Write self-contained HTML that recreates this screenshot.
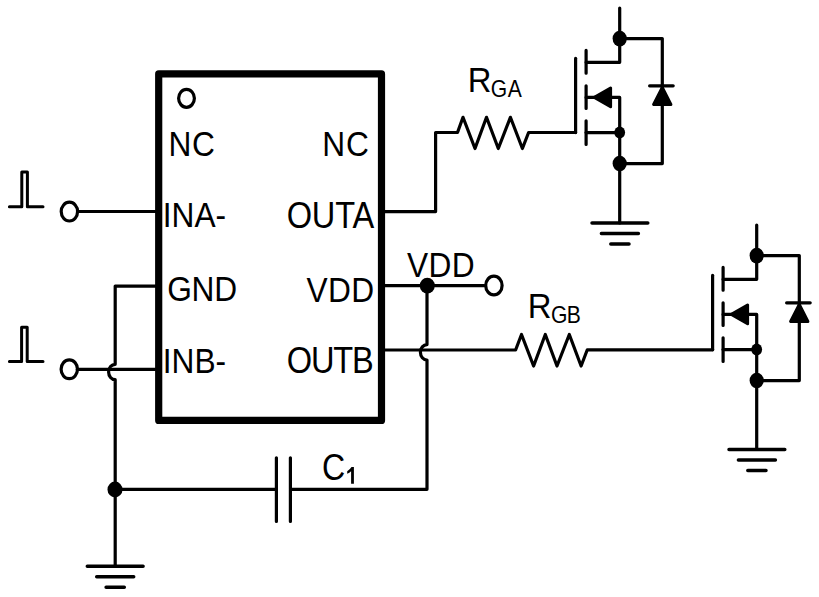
<!DOCTYPE html>
<html><head><meta charset="utf-8">
<style>
html,body{margin:0;padding:0;background:#fff;}
svg{display:block;}
text{font-family:"Liberation Sans",sans-serif;fill:#000;}
</style></head><body>
<svg width="819" height="597" viewBox="0 0 819 597">
<g fill="none" stroke="#000" stroke-width="3.2" stroke-linecap="round" stroke-linejoin="round">
<rect x="158.7" y="73.9" width="222.8" height="346.5" stroke-width="7.2"/>
<ellipse cx="186.5" cy="98.3" rx="7.9" ry="9.0"/>
<path d="M9.4 206.7H21.8V172H27.4V206.7H43" stroke-width="3"/>
<path d="M9.4 361.6H21.6V327.2H27.2V361.6H43" stroke-width="3"/>
<ellipse cx="69.4" cy="211.6" rx="8.2" ry="9.4"/>
<path d="M77.6 211.5H158"/>
<ellipse cx="69.3" cy="369.3" rx="8.2" ry="9.4"/>
<path d="M77.4 369.3H158"/>
<path d="M158 286.1H115.2V364.3A6.6 7.7 0 0 0 115.2 379.7V566.3"/>
<path d="M87.3 566.3H143.1M96.7 576.8H133.7M106.1 587.3H124.3" stroke-width="3.5"/>
<path d="M115 489.3H276.4M276.4 457.8V521.4M290.4 457.8V521.4M290.4 489.3H427V360A6.6 7.7 0 0 1 427 344.6V285.5"/>
<path d="M381 285.7H484.3"/>
<ellipse cx="493.9" cy="285.5" rx="8.2" ry="9.4"/>
<path d="M381 350H515.6L521.5 334.5L533.6 366L545.3 334.5L557 366L569.3 334.5L581.1 366L587.3 349.8H712.7"/>
<path d="M381 211.6H435.6V132.5H457.5L463 117.3L475 148.5L486.5 117.3L498.3 148.5L510.4 117.3L522.4 148.5L528.6 132.5H575.6"/>
<path d="M575.6 132.6V58.3"/>
<path d="M586.1 50.4V73.2M586.1 85.8V108.4M586.1 120.8V144.4"/>
<path d="M586.1 62.3H619.7V8.0"/>
<path d="M586.1 97.4H619.7V223.0"/>
<path d="M586.1 132.6H619.7"/>
<path d="M619.7 38.6H662.3V163.6H619.7"/>
<path d="M649.6 85.8H673.2"/>
<path d="M592.0 223.0H647.8M601.4 233.5H638.4M610.8 244.0H629.0" stroke-width="3.5"/>
<g fill="#000" stroke="none">
<ellipse cx="619.7" cy="38.6" rx="7.1" ry="7.9"/>
<ellipse cx="619.7" cy="132.6" rx="5.4" ry="6"/>
<ellipse cx="619.7" cy="163.5" rx="7.1" ry="7.8"/>
</g>
<path d="M594.4 97.4L610.6 88.0V106.8Z" fill="#000" stroke-width="3"/>
<path d="M662.3 87.5L653.6 104.5H670.9Z" fill="#000" stroke-width="3"/>
<path d="M712.6 349.6V275.3"/>
<path d="M723.1 267.4V290.2M723.1 302.8V325.4M723.1 337.8V361.4"/>
<path d="M723.1 279.3H756.7V225.0"/>
<path d="M723.1 314.4H756.7V449.5"/>
<path d="M723.1 349.6H756.7"/>
<path d="M756.7 255.6H799.3V380.6H756.7"/>
<path d="M786.6 302.8H810.2"/>
<path d="M729.0 449.5H784.8M738.4 460.0H775.4M747.8 470.5H766.0" stroke-width="3.5"/>
<g fill="#000" stroke="none">
<ellipse cx="756.7" cy="255.6" rx="7.1" ry="7.9"/>
<ellipse cx="756.7" cy="349.6" rx="5.4" ry="6"/>
<ellipse cx="756.7" cy="380.5" rx="7.1" ry="7.8"/>
</g>
<path d="M731.4 314.4L747.6 305.0V323.8Z" fill="#000" stroke-width="3"/>
<path d="M799.3 304.5L790.6 321.5H807.9Z" fill="#000" stroke-width="3"/>
</g>
<path d="M353.9 467V483.7H351.1V471.2Q349.4 472.7 347.2 473.7V471.2Q349.9 469.6 351.5 467Z" fill="#000"/>
<g fill="#000">
<ellipse cx="115" cy="489.5" rx="7.5" ry="7.9"/>
<ellipse cx="427.3" cy="285.7" rx="7.5" ry="7.9"/>
</g>
<text transform="translate(168.45,155.66) scale(0.8900,1)" font-size="35.60" letter-spacing="0.86">NC</text>
<text transform="translate(322.27,155.92) scale(0.8900,1)" font-size="35.60" letter-spacing="1.09">NC</text>
<text transform="translate(162.79,226.58) scale(0.8900,1)" font-size="35.60" letter-spacing="-0.02">INA-</text>
<text transform="translate(286.70,228.08) scale(0.8900,1)" font-size="36.60" letter-spacing="-0.22">OUTA</text>
<text transform="translate(167.22,301.34) scale(0.8900,1)" font-size="35.60" letter-spacing="-0.27">GND</text>
<text transform="translate(306.60,301.58) scale(0.8900,1)" font-size="35.60" letter-spacing="0.43">VDD</text>
<text transform="translate(162.79,372.58) scale(0.8900,1)" font-size="35.60" letter-spacing="-0.02">INB-</text>
<text transform="translate(286.70,373.08) scale(0.8900,1)" font-size="36.60" letter-spacing="-1.26">OUTB</text>
<text transform="translate(406.97,276.58) scale(0.8900,1)" font-size="35.60" letter-spacing="0.38">VDD</text>
<text transform="translate(467.85,91.66) scale(0.9215,1)" font-size="35.60" letter-spacing="1.00">R</text>
<text transform="translate(490.87,96.93) scale(0.8900,1)" font-size="23.70" letter-spacing="0.48">GA</text>
<text transform="translate(527.63,317.66) scale(0.9239,1)" font-size="35.60" letter-spacing="1.00">R</text>
<text transform="translate(550.92,322.84) scale(0.8900,1)" font-size="23.70" letter-spacing="-0.62">GB</text>
<text transform="translate(322.05,479.58) scale(0.8629,1)" font-size="37.20" letter-spacing="1.00">C</text>
</svg>
</body></html>
